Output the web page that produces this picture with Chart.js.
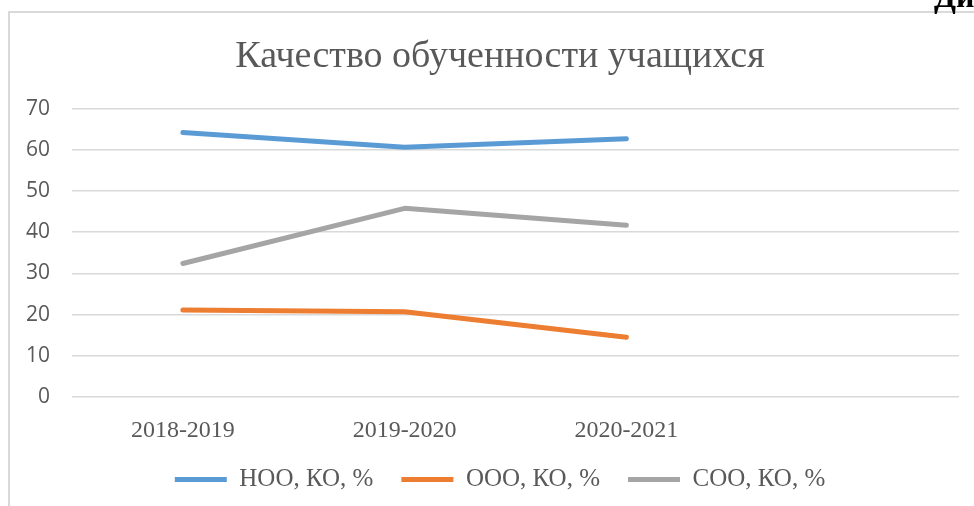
<!DOCTYPE html>
<html>
<head>
<meta charset="utf-8">
<script src="https://cdn.jsdelivr.net/npm/chart.js@4"></script>
<style>
  html, body { margin: 0; padding: 0; background: #fff; overflow: hidden; width: 974px; height: 506px; }
  #frame { position: absolute; left: 8px; top: 11px; width: 990px; height: 510px; border-left: 2px solid #d9d9d9; border-top: 2px solid #d9d9d9; }
  #wrap { position: absolute; left: 0; top: 0; width: 980px; height: 493px; }
  #corner { position: absolute; left: 934px; top: -20px; font: bold 32px/32px "Liberation Serif", serif; color: #000; white-space: nowrap; }
</style>
</head>
<body>
<div id="frame"><div id="wrap"><canvas id="c"></canvas></div></div>
<div id="corner">Диаграмма</div>
<script>
const categories = ["2018-2019", "2019-2020", "2020-2021", ""];
const nooValues = [64.2, 60.6, 62.7];
const oooValues = [21.1, 20.7, 14.5];
const sooValues = [32.4, 45.8, 41.7];
const seriesNames = ["НОО, КО, %", "ООО, КО, %", "СОО, КО, %"];
const yTicks = [0, 10, 20, 30, 40, 50, 60, 70];
const titleText = "Качество обученности учащихся";

const colors = ["#5B9BD5", "#ED7D31", "#A5A5A5"];
const serif = '"Liberation Serif", "Times New Roman", serif';
const mk = (label, data, color) => ({
  label, data, borderColor: color, backgroundColor: color,
  borderWidth: 5, borderCapStyle: 'round', borderJoinStyle: 'round',
  pointRadius: 0, pointHoverRadius: 0, tension: 0, fill: false
});

// centre title and legend over the whole chart box (as in the original)
const centreBlocks = {
  id: 'centreBlocks',
  afterLayout(chart) {
    [chart.titleBlock, chart.legend].forEach(b => {
      if (b) { b.left = 0; b.right = chart.width; b.width = chart.width; }
    });
  }
};

new Chart(document.getElementById('c'), {
  type: 'line',
  data: {
    labels: categories,
    datasets: [
      mk(seriesNames[0], nooValues, colors[0]),
      mk(seriesNames[1], oooValues, colors[1]),
      mk(seriesNames[2], sooValues, colors[2])
    ]
  },
  plugins: [centreBlocks],
  options: {
    responsive: true,
    maintainAspectRatio: false,
    animation: false,
    layout: { padding: { left: 0, right: 31, top: 0, bottom: 4 } },
    plugins: {
      tooltip: { enabled: false },
      title: {
        display: true, text: titleText, color: '#595959',
        font: { family: serif, size: 38, weight: 'normal' },
        padding: { top: 21, bottom: 29 }
      },
      legend: {
        position: 'bottom',
        labels: {
          color: '#595959',
          font: { family: serif, size: 25 },
          usePointStyle: true, pointStyle: 'line', pointStyleWidth: 52, boxHeight: 5,
          padding: 28
        }
      }
    },
    scales: {
      x: {
        offset: true,
        afterFit: (s) => { s.height = 42; },
        grid: { display: false, drawTicks: false },
        border: { display: false },
        ticks: { color: '#595959', padding: 19, maxRotation: 0,
          font: { family: serif, size: 24 } }
      },
      y: {
        min: 0, max: 70,
        afterBuildTicks: (s) => { s.ticks = yTicks.map(v => ({ value: v })); },
        afterFit: (s) => { s.width = 62; },
        grid: { color: '#d9d9d9', lineWidth: 1.5, drawTicks: false },
        border: { display: false },
        ticks: { color: '#595959', padding: 22,
          font: { family: '"Open Sans", sans-serif', size: 21 } }
      }
    }
  }
});
</script>
</body>
</html>
